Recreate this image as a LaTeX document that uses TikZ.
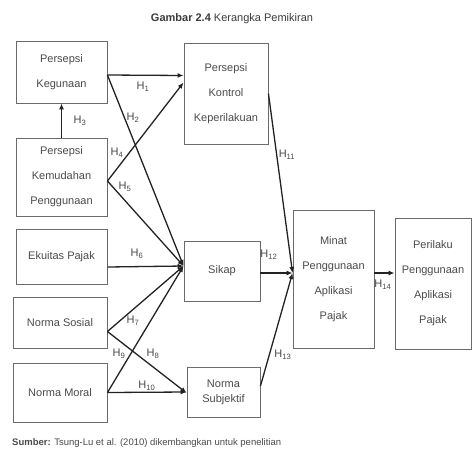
\documentclass[tikz,border=0pt]{standalone}
\usepackage{fontspec}
\setmainfont{Liberation Sans}
\usetikzlibrary{arrows.meta,calc}
\definecolor{txt}{HTML}{4A4A4A}
\definecolor{bord}{HTML}{6A6A6A}
\definecolor{lin}{HTML}{222222}
\begin{document}
\begin{tikzpicture}[x=1pt,y=-1pt,
 box/.style={draw=bord,line width=0.9pt,text=txt,align=center,inner sep=0pt,font=\fontsize{11}{25}\selectfont},
 arr/.style={draw=lin,line width=1.3pt,-{Latex[length=6pt,width=5pt]}},
 hl/.style={text=txt,font=\fontsize{11}{12}\selectfont,inner sep=0pt}]
\useasboundingbox (0,0) rectangle (472,451);
\node[text=txt!80!black,font=\fontsize{11}{13}\selectfont] (title) at (232,19) {\textbf{Gambar 2.4} Kerangka Pemikiran};
\node[box,minimum width=91pt,minimum height=62pt] (keg) at (61.5,72) {Persepsi\\Kegunaan};
\node[box,minimum width=84pt,minimum height=101pt] (kon) at (226,93.5) {Persepsi\\Kontrol\\Keperilakuan};
\node[box,minimum width=91pt,minimum height=78pt] (kem) at (61.5,177) {Persepsi\\Kemudahan\\Penggunaan};
\node[box,minimum width=91pt,minimum height=55pt] (eku) at (61.5,256.5) {Ekuitas Pajak};
\node[box,minimum width=76pt,minimum height=60pt] (sik) at (222,271) {Sikap};
\node[box,minimum width=94pt,minimum height=51pt] (sos) at (60,322.5) {Norma Sosial};
\node[box,minimum width=94pt,minimum height=59pt] (mor) at (60,392.5) {Norma Moral};
\node[box,minimum width=73pt,minimum height=50pt,font=\fontsize{11}{15}\selectfont] (sub) at (223.5,392) {Norma\\Subjektif};
\node[box,minimum width=81pt,minimum height=138pt] (min) at (333.5,279) {Minat\\Penggunaan\\Aplikasi\\Pajak};
\node[box,minimum width=76pt,minimum height=131pt] (per) at (433,283.5) {Perilaku\\Penggunaan\\Aplikasi\\Pajak};
\coordinate (sj) at ($(sik.west)+(0,-5)$);
\coordinate (mj) at ($(min.west)+(0,-6)$);
\draw[arr] (kem.north) -- (keg.south);
\draw[arr] ($(keg.east)+(0,3)$) -- ($(kon.west)+(0,-18)$);
\draw[arr] ($(keg.east)+(0,3)$) -- (sj);
\draw[arr] ($(kem.east)+(0,4)$) -- ($(kon.west)+(0,-11)$);
\draw[arr] ($(kem.east)+(0,4)$) -- (sj);
\draw[arr] ($(eku.east)+(0,10.5)$) -- (sj);
\draw[arr] ($(sos.east)+(0,9)$) -- (sj);
\draw[arr] ($(sos.east)+(0,9)$) -- ($(sub.west)+(0,1)$);
\draw[arr] (mor.east) -- (sj);
\draw[arr] (mor.east) -- (sub.west);
\draw[arr] (kon.east) -- (mj);
\draw[arr] ($(sik.east)+(0,2)$) -- (mj);
\draw[arr] ($(sub.east)+(0,-6)$) -- (mj);
\draw[arr] ($(min.east)+(0,-6)$) -- ($(per.west)+(0,-10.5)$);
\node[hl] (h1) at (143,87) {H\textsubscript{1}};
\node[hl] (h2) at (133,118) {H\textsubscript{2}};
\node[hl] (h3) at (80,121) {H\textsubscript{3}};
\node[hl] (h4) at (117,153) {H\textsubscript{4}};
\node[hl] (h5) at (125,187) {H\textsubscript{5}};
\node[hl] (h6) at (137,254) {H\textsubscript{6}};
\node[hl] (h7) at (133,321) {H\textsubscript{7}};
\node[hl] (h8) at (153,354) {H\textsubscript{8}};
\node[hl] (h9) at (119,354) {H\textsubscript{9}};
\node[hl] (h10) at (147,386) {H\textsubscript{10}};
\node[hl] (h11) at (287,155) {H\textsubscript{11}};
\node[hl] (h12) at (269,255) {H\textsubscript{12}};
\node[hl] (h13) at (283,355) {H\textsubscript{13}};
\node[hl] (h14) at (383,285) {H\textsubscript{14}};
\node[anchor=west,text=txt,font=\fontsize{9.5}{11}\selectfont,inner sep=0pt] (src) at (12,443) {\textbf{Sumber:} Tsung-Lu et al. (2010) dikembangkan untuk penelitian};
\end{tikzpicture}
\end{document}
